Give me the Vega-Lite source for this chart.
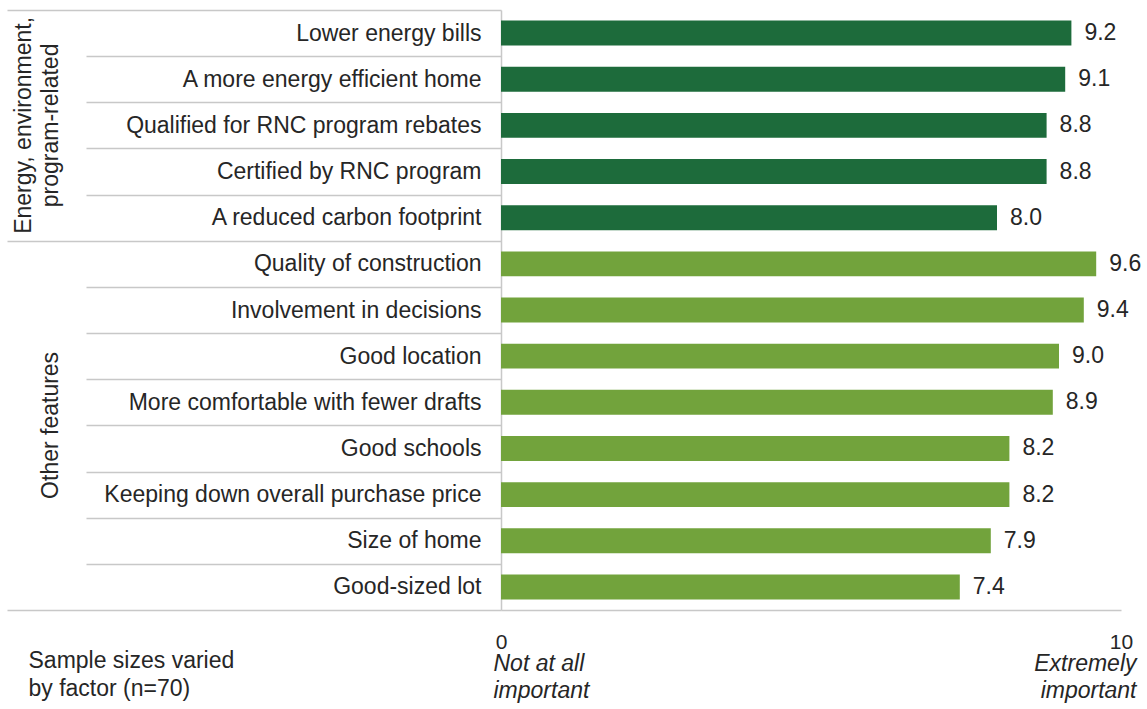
{
  "$schema": "https://vega.github.io/schema/vega-lite/v6.json",
  "width": 620,
  "height": 600,
  "autosize": {"type": "none"},
  "padding": {"left": 501, "top": 10, "right": 26, "bottom": 99},
  "background": "white",
  "config": {"view": {"stroke": null}, "font": "Liberation Sans", "text": {"font": "Liberation Sans"}},
  "data": {
    "values": [
      {"feature": "Lower energy bills", "group": "Energy", "value": 9.2},
      {"feature": "A more energy efficient home\u00a0", "group": "Energy", "value": 9.1},
      {"feature": "Qualified for RNC program rebates", "group": "Energy", "value": 8.8},
      {"feature": "Certified by RNC program", "group": "Energy", "value": 8.8},
      {"feature": "A reduced carbon footprint", "group": "Energy", "value": 8.0},
      {"feature": "Quality of construction", "group": "Other", "value": 9.6},
      {"feature": "Involvement in decisions", "group": "Other", "value": 9.4},
      {"feature": "Good location", "group": "Other", "value": 9.0},
      {"feature": "More comfortable with fewer drafts", "group": "Other", "value": 8.9},
      {"feature": "Good schools", "group": "Other", "value": 8.2},
      {"feature": "Keeping down overall purchase price", "group": "Other", "value": 8.2},
      {"feature": "Size of home", "group": "Other", "value": 7.9},
      {"feature": "Good-sized lot", "group": "Other", "value": 7.4}
    ]
  },
  "layer": [
    {
      "mark": {"type": "bar", "height": {"band": 0.54}},
      "encoding": {
        "y": {
          "field": "feature",
          "type": "nominal",
          "scale": {
            "domain": ["Lower energy bills", "A more energy efficient home\u00a0", "Qualified for RNC program rebates", "Certified by RNC program", "A reduced carbon footprint", "Quality of construction", "Involvement in decisions", "Good location", "More comfortable with fewer drafts", "Good schools", "Keeping down overall purchase price", "Size of home", "Good-sized lot"],
            "paddingInner": 0,
            "paddingOuter": 0
          },
          "axis": {
            "orient": "left",
            "domainColor": "#c8c8c8",
            "domainWidth": 1.5,
            "tickBand": "extent",
            "tickColor": "#c8c8c8",
            "tickWidth": 1.5,
            "tickSize": {"condition": {"test": "datum.extra || datum.value === 'A reduced carbon footprint' || datum.value === 'Good-sized lot'", "value": 494}, "value": 415},
            "labelPadding": {"condition": {"test": "datum.extra || datum.value === 'A reduced carbon footprint' || datum.value === 'Good-sized lot'", "value": -474}, "value": -395},
            "labelFontSize": 23,
            "labelFont": "Liberation Sans",
            "labelColor": "#262626",
            "labelLimit": 600,
            "labelAlign": "right",
            "labelBaseline": "middle",
            "grid": false,
            "title": ["Sample sizes varied", "by factor (n=70)"],
            "titleAngle": 0,
            "titleAlign": "left",
            "titleBaseline": "alphabetic",
            "titleX": -473,
            "titleY": 657,
            "titleFontSize": 23,
            "titleFontWeight": "normal",
            "titleFont": "Liberation Sans",
            "titleColor": "#262626",
            "titleLineHeight": 28
          }
        },
        "x": {
          "field": "value",
          "type": "quantitative",
          "scale": {"domain": [0, 10], "nice": false},
          "axis": {
            "orient": "bottom",
            "values": [0, 10],
            "title": null,
            "grid": false,
            "ticks": false,
            "domainColor": "#c8c8c8",
            "domainWidth": 1.5,
            "labelFlush": false,
            "labelFontSize": 21,
            "labelFont": "Liberation Sans",
            "labelColor": "#262626",
            "labelPadding": 21,
            "labelBaseline": "top"
          }
        },
        "color": {
          "field": "group",
          "type": "nominal",
          "scale": {"domain": ["Energy", "Other"], "range": ["#1d6b3b", "#72a33c"]},
          "legend": null
        }
      }
    },
    {
      "mark": {"type": "text", "align": "left", "baseline": "middle", "dx": 13, "fontSize": 23, "color": "#262626"},
      "encoding": {
        "y": {"field": "feature", "type": "nominal"},
        "x": {
          "field": "value",
          "type": "quantitative",
          "scale": {"domain": [0, 10], "nice": false},
          "axis": {
            "orient": "bottom",
            "values": [0, 10],
            "title": null,
            "grid": false,
            "ticks": false,
            "domain": false,
            "labelFlush": false,
            "labelExpr": "datum.value == 0 ? ['Not at all', 'important'] : ['Extremely', 'important']",
            "labelFontSize": 23,
            "labelFontStyle": "italic",
            "labelFont": "Liberation Sans",
            "labelColor": "#262626",
            "labelLineHeight": 27,
            "labelPadding": 42,
            "labelBaseline": "top",
            "labelAlign": {"condition": {"test": "datum.value == 0", "value": "left"}, "value": "right"},
            "labelOffset": {"condition": {"test": "datum.value == 0", "value": -8}, "value": 15}
          }
        },
        "text": {"field": "value", "type": "quantitative", "format": ".1f"}
      }
    },
    {
      "data": {"values": [{"label": "Energy, environment,\nprogram-related"}]},
      "mark": {"type": "text", "angle": 270, "align": "center", "baseline": "middle", "fontSize": 23, "lineBreak": "\n", "lineHeight": 27, "color": "#262626"},
      "encoding": {
        "x": {"datum": -7.69, "type": "quantitative", "scale": {"domain": [0, 10], "nice": false}, "axis": null},
        "y": {"datum": "Qualified for RNC program rebates", "type": "nominal"},
        "text": {"field": "label", "type": "nominal"}
      }
    },
    {
      "data": {"values": [{"label": "Other features"}]},
      "mark": {"type": "text", "angle": 270, "align": "center", "baseline": "middle", "fontSize": 23, "color": "#262626"},
      "encoding": {
        "x": {"datum": -7.26, "type": "quantitative", "scale": {"domain": [0, 10], "nice": false}, "axis": null},
        "y": {"datum": "More comfortable with fewer drafts", "type": "nominal", "bandPosition": 1},
        "text": {"field": "label", "type": "nominal"}
      }
    }
  ],
  "resolve": {"axis": {"x": "independent"}}
}
